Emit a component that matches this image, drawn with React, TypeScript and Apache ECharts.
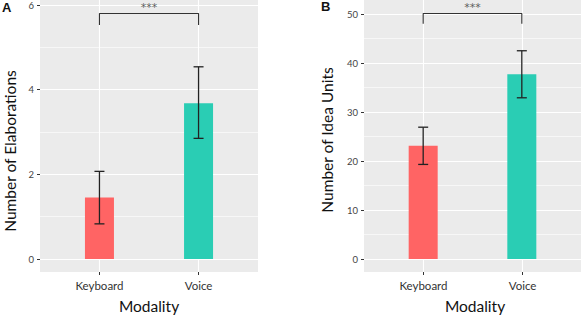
import React, { useEffect, useRef } from "react";
import * as echarts from "echarts";

// ---- data ----
const categories = ["Keyboard", "Voice"];
const barColors = ["#FF6464", "#2ACDB4"];

const elabMean = [1.45, 3.68];
const elabLow = [0.83, 2.85];
const elabHigh = [2.07, 4.54];
const elabTicks = { min: 0, max: 6, interval: 2 };
const elabBracket = { top: 5.8, tip: 5.53, star: 5.95 };

const ideaMean = [23.1, 37.7];
const ideaLow = [19.3, 32.9];
const ideaHigh = [26.9, 42.5];
const ideaTicks = { min: 0, max: 50, interval: 10 };
const ideaBracket = { top: 50.1, tip: 48.0, star: 51.4 };

const FONT = "Lato";

type Panel = {
  left: number;
  plotTop: number; // pixel y of axis max
  mean: number[];
  low: number[];
  high: number[];
  ticks: { min: number; max: number; interval: number };
  bracket: { top: number; tip: number; star: number };
};

function buildPanel(p: Panel, gi: number) {
  const panelW = 218;
  const panelTop = 0;
  const panelH = 272;
  const zeroY = 259;
  const unit = panelW / 2.2;
  const grids = [
    { left: p.left, top: panelTop, width: panelW, height: panelH, show: true, backgroundColor: "#EBEBEB", borderWidth: 0 },
    { left: p.left, top: p.plotTop, width: panelW, height: zeroY - p.plotTop },
    { left: p.left + 0.6 * unit, top: panelTop, width: unit, height: panelH },
  ];
  const xAxes = [
    { gridIndex: gi, type: "value", show: false, min: 0, max: 1 },
    { gridIndex: gi + 1, type: "value", show: false, min: 0.4, max: 2.6 },
    {
      gridIndex: gi + 2,
      type: "value",
      min: 1,
      max: 2,
      interval: 1,
      axisLine: { show: false },
      axisTick: { show: true, length: 3, lineStyle: { color: "#333", width: 1 } },
      axisLabel: {
        margin: 7,
        fontSize: 11.5,
        color: "#333",
        fontFamily: FONT,
        formatter: (v: number) => categories[Math.round(v) - 1] ?? "",
      },
      splitLine: { show: true, lineStyle: { color: "#FFFFFF", width: 1.1 } },
    },
  ];
  const yAxes = [
    { gridIndex: gi, type: "value", show: false, min: 0, max: 1 },
    {
      gridIndex: gi + 1,
      type: "value",
      min: p.ticks.min,
      max: p.ticks.max,
      interval: p.ticks.interval,
      axisLine: { show: false },
      axisTick: { show: true, length: 3, lineStyle: { color: "#333", width: 1 } },
      axisLabel: { margin: 6, fontSize: 9.5, color: "#444", fontFamily: FONT },
      splitLine: { show: true, lineStyle: { color: "#FFFFFF", width: 1.1 } },
      minorTick: { show: false, splitNumber: 2 },
      minorSplitLine: { show: true, lineStyle: { color: "#FFFFFF", width: 0.6 } },
    },
    { gridIndex: gi + 2, type: "value", show: false, min: 0, max: 1 },
  ];
  const xi = gi + 1;
  const series = [
    {
      type: "bar",
      xAxisIndex: xi,
      yAxisIndex: xi,
      barWidth: 29,
      z: 2,
      data: categories.map((c, i) => ({
        name: c,
        value: [i + 1, p.mean[i]],
        itemStyle: { color: barColors[i] },
      })),
    },
    {
      type: "custom",
      xAxisIndex: xi,
      yAxisIndex: xi,
      z: 4,
      data: categories.map((c, i) => [i + 1, p.low[i], p.high[i]]),
      renderItem: (params: any, api: any) => {
        const x = api.value(0);
        const lo = api.coord([x, api.value(1)]);
        const hi = api.coord([x, api.value(2)]);
        const half = 5;
        const style = { stroke: "#222", lineWidth: 1.3 };
        return {
          type: "group",
          children: [
            { type: "line", shape: { x1: lo[0], y1: lo[1], x2: hi[0], y2: hi[1] }, style },
            { type: "line", shape: { x1: hi[0] - half, y1: hi[1], x2: hi[0] + half, y2: hi[1] }, style },
            { type: "line", shape: { x1: lo[0] - half, y1: lo[1], x2: lo[0] + half, y2: lo[1] }, style },
          ],
        };
      },
    },
    {
      type: "line",
      xAxisIndex: xi,
      yAxisIndex: xi,
      z: 4,
      clip: false,
      symbol: "none",
      lineStyle: { color: "#333", width: 1.1 },
      data: [
        [1, p.bracket.tip],
        [1, p.bracket.top],
        [2, p.bracket.top],
        [2, p.bracket.tip],
      ],
    },
    {
      type: "scatter",
      xAxisIndex: xi,
      yAxisIndex: xi,
      z: 4,
      clip: false,
      symbolSize: 1,
      itemStyle: { color: "rgba(0,0,0,0)" },
      label: {
        show: true,
        position: "inside",
        formatter: "***",
        fontSize: 11,
        lineHeight: 11,
        color: "#333",
        fontFamily: "DejaVu Sans",
      },
      data: [[1.5, p.bracket.star]],
    },
  ];
  return { grids, xAxes, yAxes, series };
}

export default function App() {
  const ref = useRef<HTMLDivElement>(null);
  useEffect(() => {
    if (!ref.current) return;
    const chart = echarts.init(ref.current, undefined, { renderer: "svg" });
    const a = buildPanel(
      { left: 40, plotTop: 5, mean: elabMean, low: elabLow, high: elabHigh, ticks: elabTicks, bracket: elabBracket },
      0
    );
    const b = buildPanel(
      { left: 364, plotTop: 14, mean: ideaMean, low: ideaLow, high: ideaHigh, ticks: ideaTicks, bracket: ideaBracket },
      3
    );
    const titleStyle = { fontSize: 15.5, fill: "#111", fontFamily: FONT };
    chart.setOption({
      animation: false,
      backgroundColor: "#FFFFFF",
      textStyle: { fontFamily: FONT },
      grid: [...a.grids, ...b.grids],
      xAxis: [...a.xAxes, ...b.xAxes],
      yAxis: [...a.yAxes, ...b.yAxes],
      series: [...a.series, ...b.series],
      graphic: [
        { type: "text", left: 2, top: 1, style: { text: "A", fontSize: 13, fontWeight: "bold", fill: "#111", fontFamily: "Liberation Sans" } },
        { type: "text", left: 321, top: 0, style: { text: "B", fontSize: 13, fontWeight: "bold", fill: "#111", fontFamily: "Liberation Sans" } },
        {
          type: "text",
          x: 10,
          y: 151,
          rotation: Math.PI / 2,
          style: { ...titleStyle, text: "Number of Elaborations", textAlign: "center", textVerticalAlign: "middle" },
        },
        {
          type: "text",
          x: 327,
          y: 140,
          rotation: Math.PI / 2,
          style: { ...titleStyle, text: "Number of Idea Units", textAlign: "center", textVerticalAlign: "middle" },
        },
        {
          type: "text",
          x: 149,
          y: 306,
          style: { ...titleStyle, text: "Modality", textAlign: "center", textVerticalAlign: "middle" },
        },
        {
          type: "text",
          x: 475,
          y: 306,
          style: { ...titleStyle, text: "Modality", textAlign: "center", textVerticalAlign: "middle" },
        },
      ],
    });
    return () => chart.dispose();
  }, []);
  return (
    <div
      ref={ref}
      style={{ position: "fixed", left: 0, top: 0, width: 581, height: 316 }}
    />
  );
}
